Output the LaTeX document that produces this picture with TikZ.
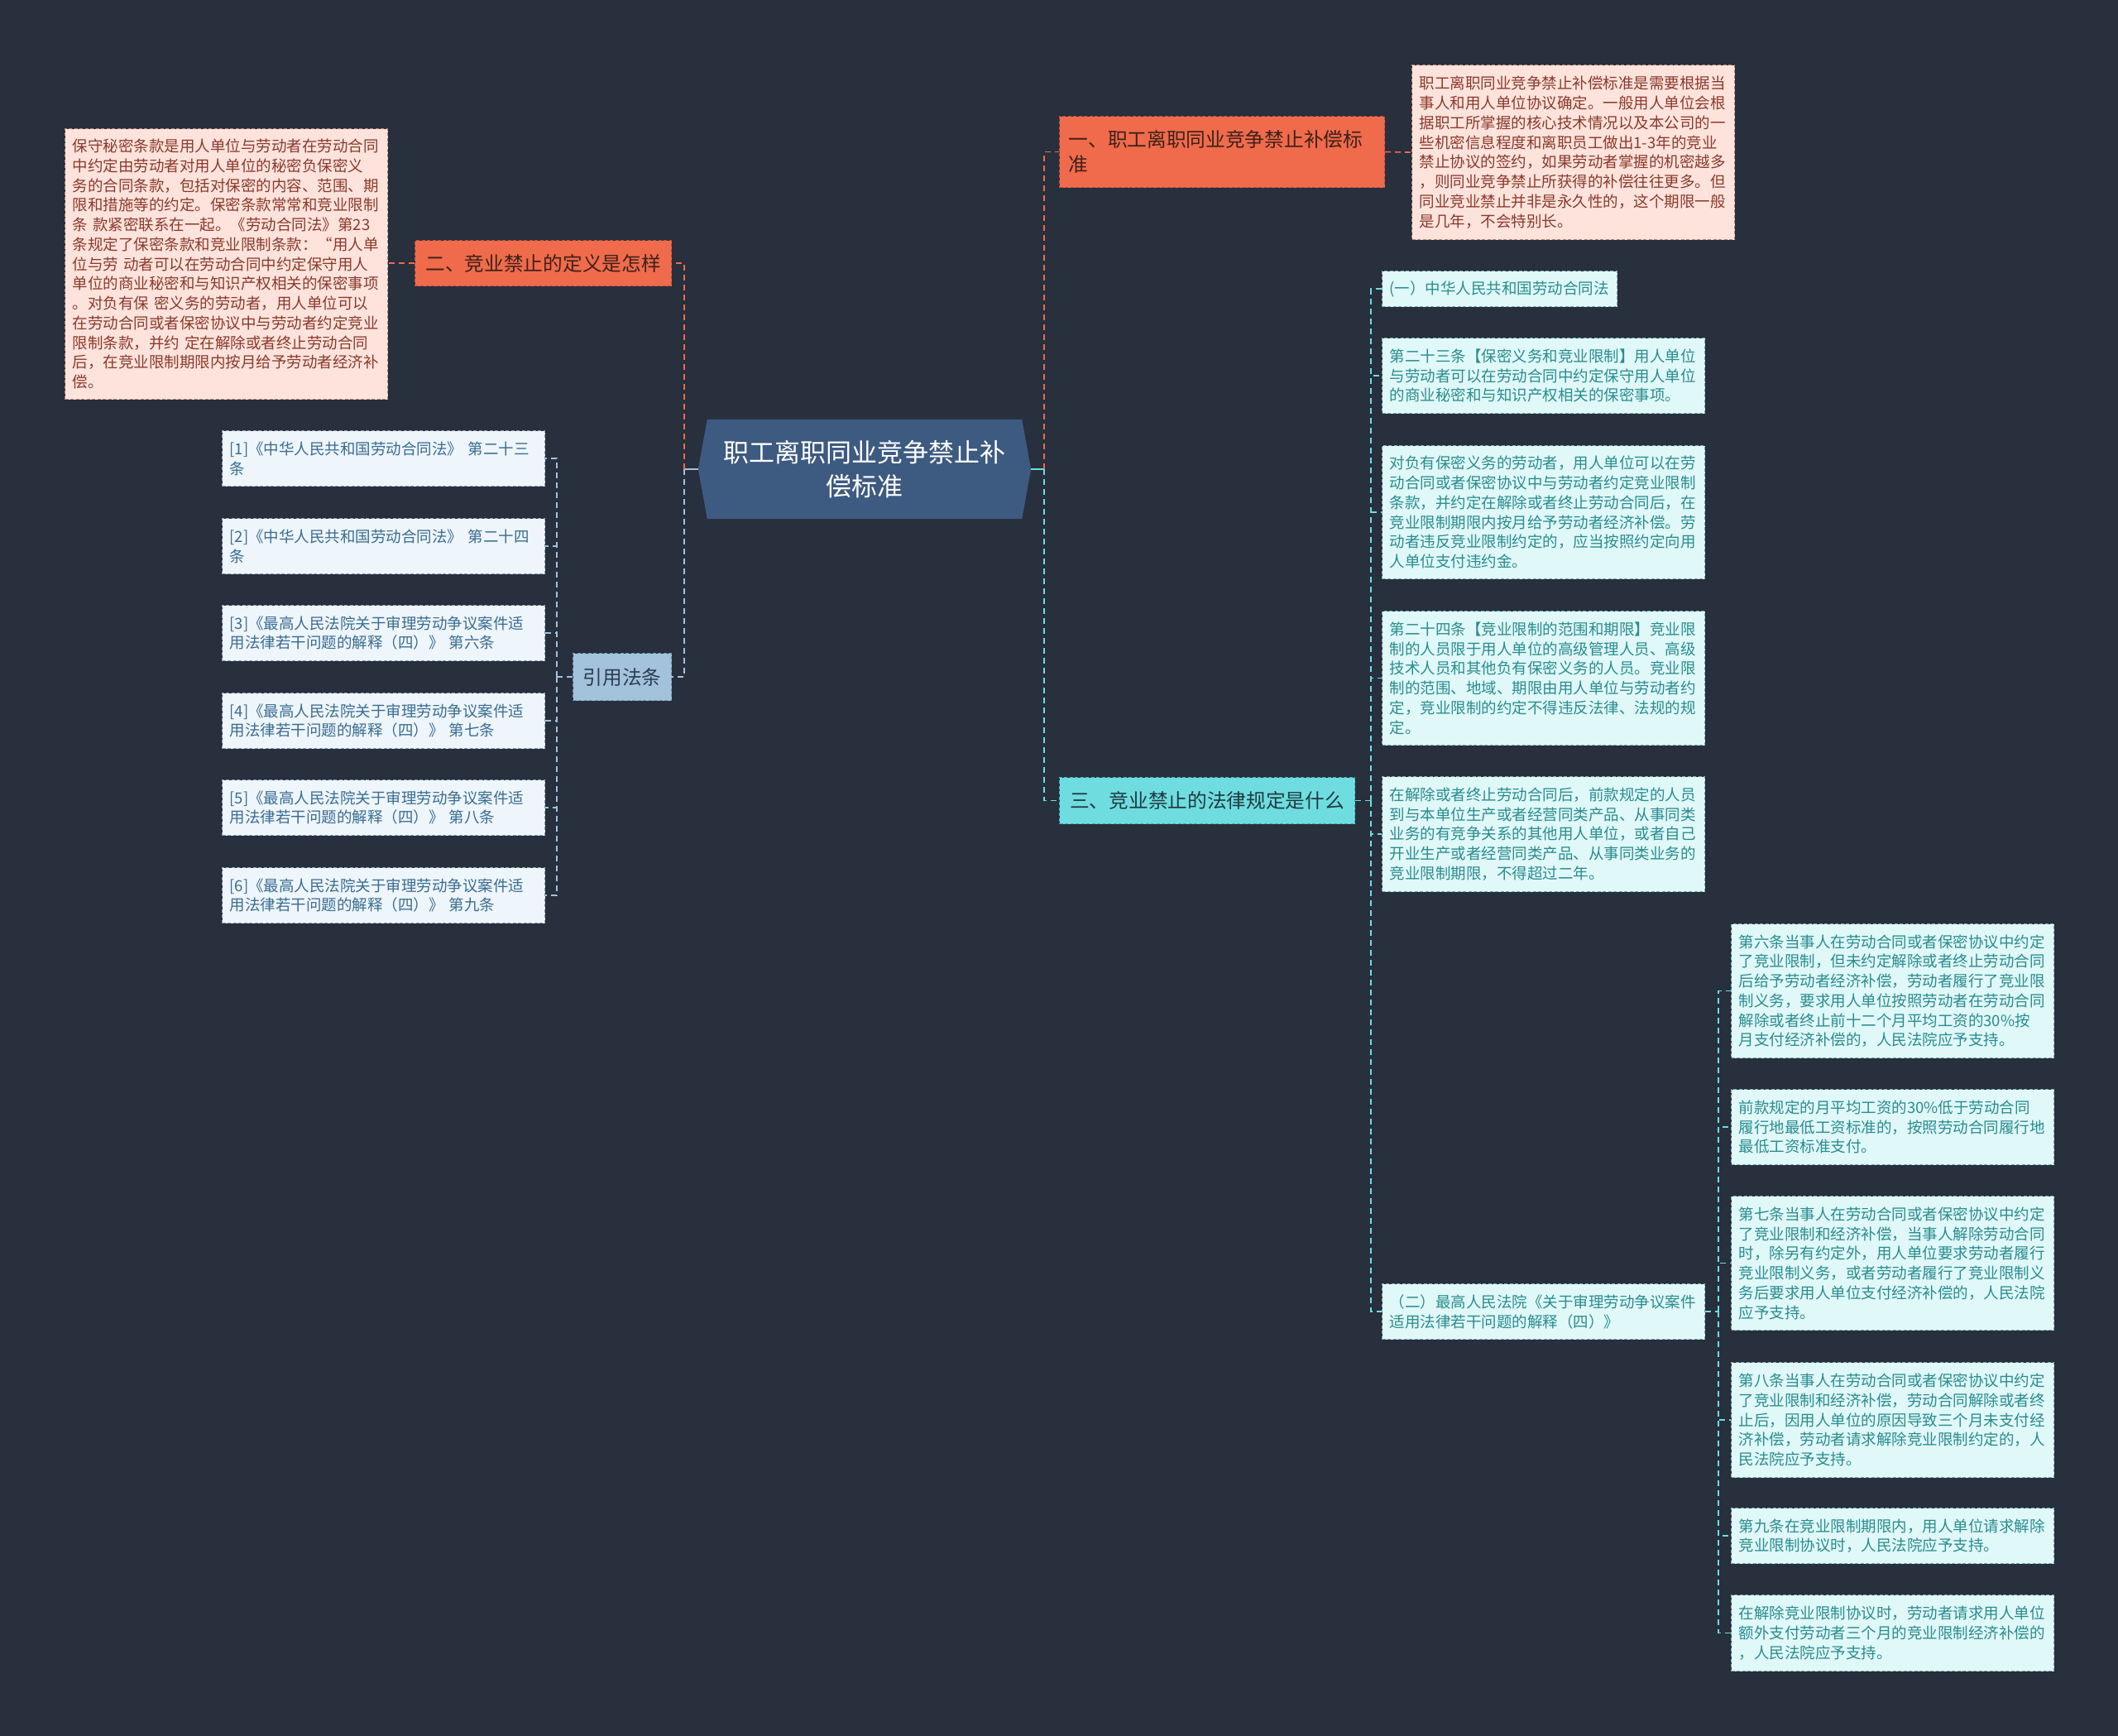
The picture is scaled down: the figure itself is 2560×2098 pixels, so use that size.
\documentclass[tikz,border=0pt]{standalone}
\usepackage{fontspec}
\setmainfont{Noto Sans CJK SC}
\usetikzlibrary{positioning,backgrounds}
\definecolor{cBg}{HTML}{282F3D}
\definecolor{cCtr}{HTML}{3D5A80}
\definecolor{cOr}{HTML}{EF6B4C}
\definecolor{cOrD}{HTML}{B9503A}
\definecolor{cOrT}{HTML}{3E2119}
\definecolor{cPk}{HTML}{FDE3DC}
\definecolor{cPkD}{HTML}{B8867A}
\definecolor{cPkT}{HTML}{8B3A2B}
\definecolor{cCy}{HTML}{6FDDE0}
\definecolor{cCyD}{HTML}{46AEB2}
\definecolor{cCyT}{HTML}{1E3A40}
\definecolor{cCyL}{HTML}{E0F8F8}
\definecolor{cCyLD}{HTML}{7AAEB0}
\definecolor{cCyLT}{HTML}{2A8C8F}
\definecolor{cRf}{HTML}{A3C2DC}
\definecolor{cRfD}{HTML}{7895B0}
\definecolor{cRfT}{HTML}{2C3E50}
\definecolor{cRfL}{HTML}{EEF5FB}
\definecolor{cRfLD}{HTML}{8AA0B5}
\definecolor{cRfLT}{HTML}{3A6D92}
\newcommand{\txs}{\fontsize{18.5pt}{23.75pt}\selectfont}
\newcommand{\txm}{\fontsize{23.7pt}{29.4pt}\selectfont}
\newcommand{\txl}{\fontsize{31pt}{41pt}\selectfont}
\tikzset{
  leaf/.style={draw,dash pattern=on 4pt off 2.5pt,line width=1.2pt,font=\txs,
               align=left,text width=372pt,inner xsep=9pt,inner ysep=0pt,anchor=north west},
  pkleaf/.style={leaf,draw=cPkD,fill=cPk,text=cPkT},
  cyleaf/.style={leaf,draw=cCyLD,fill=cCyL,text=cCyLT},
  rfleaf/.style={leaf,draw=cRfLD,fill=cRfL,text=cRfLT,minimum height=67pt},
  topic/.style={draw,dash pattern=on 4pt off 2.5pt,line width=1.2pt,font=\txm,
                inner xsep=11pt,inner ysep=0pt,anchor=north west},
  ortopic/.style={topic,draw=cOrD,fill=cOr,text=cOrT},
  cytopic/.style={topic,draw=cCyD,fill=cCy,text=cCyT},
  rftopic/.style={topic,draw=cRfD,fill=cRf,text=cRfT},
  link/.style={line width=1.6pt,dash pattern=on 7pt off 5pt},
  orlink/.style={link,draw=cOr},
  cylink/.style={link,draw=cCy},
  rflink/.style={link,draw=cRf},
  stub/.style={line width=2pt,draw=#1},
}

\begin{document}
\begin{tikzpicture}[x=1pt,y=-1pt]
  \useasboundingbox (0,0) rectangle (2560,2098);
  % centre
  \node[font=\txl,text=white,align=center,minimum width=402pt,minimum height=120pt,inner sep=0pt]
    (ctr) at (1045,567) {职工离职同业竞争禁止补\\偿标准};
  % main topics
  \node[ortopic,text width=371pt,align=left,minimum height=86pt] (bA) at (1280,140)
    {一、职工离职同业竞争禁止补偿标\\准};
  \node[ortopic,minimum width=310pt,minimum height=55pt] (bB) at (501,290) {二、竞业禁止的定义是怎样};
  \node[cytopic,minimum width=357pt,minimum height=56pt] (bC) at (1280,939) {三、竞业禁止的法律规定是什么};
  \node[rftopic,minimum width=119pt,minimum height=57pt] (bR) at (692,789) {引用法条};
  % texts of topic one and two
  \node[pkleaf,minimum height=211pt] (bAtx) at (1706,78)
    {职工离职同业竞争禁止补偿标准是需要根据当\\
     事人和用人单位协议确定。一般用人单位会根\\
     据职工所掌握的核心技术情况以及本公司的一\\
     些机密信息程度和离职员工做出1-3年的竞业\\
     禁止协议的签约，如果劳动者掌握的机密越多\\
     ，则同业竞争禁止所获得的补偿往往更多。但\\
     同业竞业禁止并非是永久性的，这个期限一般\\
     是几年，不会特别长。};
  \node[pkleaf,minimum height=327pt] (bBtx) at (78,155)
    {保守秘密条款是用人单位与劳动者在劳动合同\\
     中约定由劳动者对用人单位的秘密负保密义\\
     务的合同条款，包括对保密的内容、范围、期\\
     限和措施等的约定。保密条款常常和竞业限制\\
     条~款紧密联系在一起。《劳动合同法》第23\\
     条规定了保密条款和竞业限制条款：“用人单\\
     位与劳~动者可以在劳动合同中约定保守用人\\
     单位的商业秘密和与知识产权相关的保密事项\\
     。对负有保~密义务的劳动者，用人单位可以\\
     在劳动合同或者保密协议中与劳动者约定竞业\\
     限制条款，并约~定在解除或者终止劳动合同\\
     后，在竞业限制期限内按月给予劳动者经济补\\
     偿。};
  % cited articles
  \node[rfleaf] (r1) at (268,520) {[1]《中华人民共和国劳动合同法》~第二十三\\条};
  \node[rfleaf] (r2) at (268,626) {[2]《中华人民共和国劳动合同法》~第二十四\\条};
  \node[rfleaf] (r3) at (268,731) {[3]《最高人民法院关于审理劳动争议案件适\\用法律若干问题的解释（四）》~第六条};
  \node[rfleaf] (r4) at (268,837) {[4]《最高人民法院关于审理劳动争议案件适\\用法律若干问题的解释（四）》~第七条};
  \node[rfleaf] (r5) at (268,942) {[5]《最高人民法院关于审理劳动争议案件适\\用法律若干问题的解释（四）》~第八条};
  \node[rfleaf] (r6) at (268,1048) {[6]《最高人民法院关于审理劳动争议案件适\\用法律若干问题的解释（四）》~第九条};
  % topic three
  \node[cyleaf,text width=266pt,minimum height=43pt] (c1) at (1670,327) {(一）中华人民共和国劳动合同法};
  \node[cyleaf,minimum height=91pt] (c2) at (1670,408)
    {第二十三条【保密义务和竞业限制】用人单位\\
     与劳动者可以在劳动合同中约定保守用人单位\\
     的商业秘密和与知识产权相关的保密事项。};
  \node[cyleaf,minimum height=161pt] (c3) at (1670,538)
    {对负有保密义务的劳动者，用人单位可以在劳\\
     动合同或者保密协议中与劳动者约定竞业限制\\
     条款，并约定在解除或者终止劳动合同后，在\\
     竞业限制期限内按月给予劳动者经济补偿。劳\\
     动者违反竞业限制约定的，应当按照约定向用\\
     人单位支付违约金。};
  \node[cyleaf,minimum height=162pt] (c4) at (1670,738)
    {第二十四条【竞业限制的范围和期限】竞业限\\
     制的人员限于用人单位的高级管理人员、高级\\
     技术人员和其他负有保密义务的人员。竞业限\\
     制的范围、地域、期限由用人单位与劳动者约\\
     定，竞业限制的约定不得违反法律、法规的规\\
     定。};
  \node[cyleaf,minimum height=139pt] (c5) at (1670,938)
    {在解除或者终止劳动合同后，前款规定的人员\\
     到与本单位生产或者经营同类产品、从事同类\\
     业务的有竞争关系的其他用人单位，或者自己\\
     开业生产或者经营同类产品、从事同类业务的\\
     竞业限制期限，不得超过二年。};
  \node[cyleaf,minimum height=67pt] (c6) at (1670,1551)
    {（二）最高人民法院《关于审理劳动争议案件\\
     适用法律若干问题的解释（四）》};
  % judicial interpretation
  \node[cyleaf,minimum height=162pt] (d1) at (2092,1116)
    {第六条当事人在劳动合同或者保密协议中约定\\
     了竞业限制，但未约定解除或者终止劳动合同\\
     后给予劳动者经济补偿，劳动者履行了竞业限\\
     制义务，要求用人单位按照劳动者在劳动合同\\
     解除或者终止前十二个月平均工资的30\%按\\
     月支付经济补偿的，人民法院应予支持。};
  \node[cyleaf,minimum height=91pt] (d2) at (2092,1316)
    {前款规定的月平均工资的30\%低于劳动合同\\
     履行地最低工资标准的，按照劳动合同履行地\\
     最低工资标准支付。};
  \node[cyleaf,minimum height=162pt] (d3) at (2092,1445)
    {第七条当事人在劳动合同或者保密协议中约定\\
     了竞业限制和经济补偿，当事人解除劳动合同\\
     时，除另有约定外，用人单位要求劳动者履行\\
     竞业限制义务，或者劳动者履行了竞业限制义\\
     务后要求用人单位支付经济补偿的，人民法院\\
     应予支持。};
  \node[cyleaf,minimum height=139pt] (d4) at (2092,1646)
    {第八条当事人在劳动合同或者保密协议中约定\\
     了竞业限制和经济补偿，劳动合同解除或者终\\
     止后，因用人单位的原因导致三个月未支付经\\
     济补偿，劳动者请求解除竞业限制约定的，人\\
     民法院应予支持。};
  \node[cyleaf,minimum height=67pt] (d5) at (2092,1822)
    {第九条在竞业限制期限内，用人单位请求解除\\
     竞业限制协议时，人民法院应予支持。};
  \node[cyleaf,minimum height=92pt] (d6) at (2092,1927)
    {在解除竞业限制协议时，劳动者请求用人单位\\
     额外支付劳动者三个月的竞业限制经济补偿的\\
     ，人民法院应予支持。};
  % junctions
  \coordinate[left=17pt of ctr.west] (jL);
  \coordinate[right=16pt of ctr.east] (jR);
  \coordinate[right=19pt of bC.east] (jC);
  \coordinate[right=16pt of c6.east] (jD);
  \coordinate[left=19pt of bR.west] (jRf);
  % connectors
  \draw[stub=cRf] (ctr.west) -- (jL);
  \draw[stub=cCy] (ctr.east) -- (jR);
  \draw[orlink] (jL) |- (bB.east);
  \draw[rflink] (jL) |- (bR.east);
  \draw[orlink] (jR) |- (bA.west);
  \draw[cylink] (jR) |- (bC.west);
  \draw[orlink] (bA.east) -- (bAtx.west);
  \draw[orlink] (bB.west) -- (bB.west -| bBtx.east);
  \draw[rflink] (bR.west) -- (jRf);
  \foreach \n in {r1,r2,r3,r4,r5,r6}
    \draw[rflink] (jRf) |- (\n.east);
  \draw[cylink] (bC.east) -- (jC);
  \foreach \n in {c1,c2,c3,c4,c5,c6}
    \draw[cylink] (jC) |- (\n.west);
  \draw[cylink] (c6.east) -- (jD);
  \foreach \n in {d1,d2,d3,d4,d5,d6}
    \draw[cylink] (jD) |- (\n.west);
  % backdrop and centre shape
  \begin{scope}[on background layer]
    \fill[cBg] (0,0) rectangle (2560,2098);
    \fill[cCtr] ([xshift=11pt]ctr.north west) -- ([xshift=-11pt]ctr.north east) -- (ctr.east)
      -- ([xshift=-11pt]ctr.south east) -- ([xshift=11pt]ctr.south west) -- (ctr.west) -- cycle;
  \end{scope}
\end{tikzpicture}
\end{document}
